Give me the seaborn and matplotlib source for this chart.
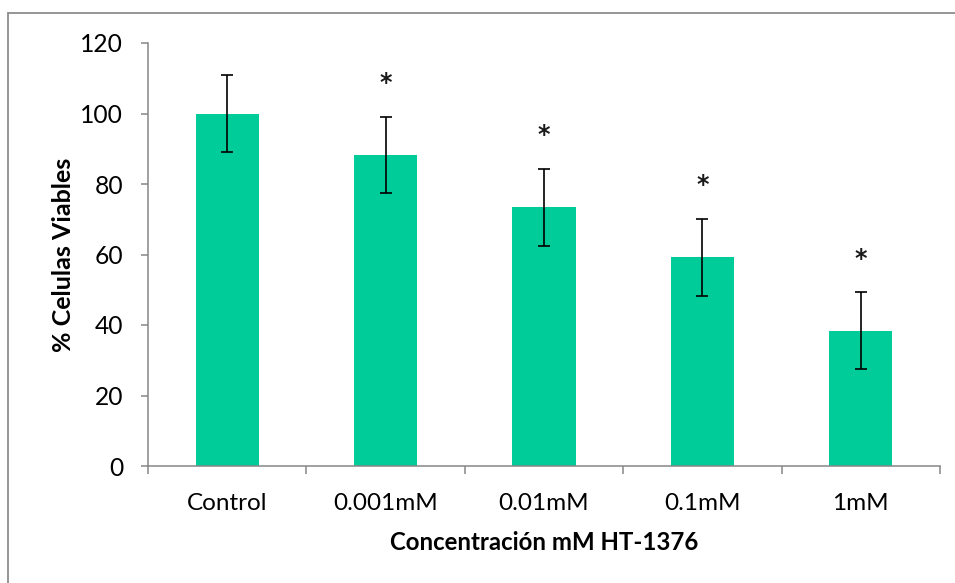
import matplotlib
matplotlib.use("Agg")
import matplotlib.pyplot as plt
import matplotlib.lines as mlines
import seaborn as sns
import pandas as pd

categories = ["Control", "0.001mM", "0.01mM", "0.1mM", "1mM"]
viability = [100.0, 88.3, 73.4, 59.2, 38.4]
errors = [10.9, 10.8, 10.9, 10.9, 10.9]
stars = ["", "*", "*", "*", "*"]
y_ticks = [0, 20, 40, 60, 80, 100, 120]

sns.set_theme(style="white")
plt.rcParams["font.family"] = ["Lato", "DejaVu Sans"]

df = pd.DataFrame({"cat": categories, "val": viability})

W, H = 955, 583
fig = plt.figure(figsize=(W / 100, H / 100), dpi=100)
fig.patch.set_facecolor("white")
ax = fig.add_axes([148 / W, 1 - 466 / H, (940 - 148) / W, (466 - 43) / H])

sns.barplot(data=df, x="cat", y="val", color="#00CC99", width=0.40,
            errorbar=None, ax=ax, saturation=1, linewidth=0)
ax.errorbar(range(len(categories)), viability, yerr=errors, fmt="none",
            ecolor="black", elinewidth=1.2, capsize=4, capthick=1.2, zorder=5)
for i, (v, e, s) in enumerate(zip(viability, errors, stars)):
    if s:
        ax.text(i, v + e + 9.5, s, ha="center", va="center", fontsize=17,
                family=["DejaVu Sans"], fontweight="bold", color="#1a1a1a")

ax.set_xlim(-0.5, len(categories) - 0.5)
ax.set_ylim(0, 120)
ax.set_yticks(y_ticks)
ax.set_yticklabels([str(t) for t in y_ticks])

ax.set_xticks(range(len(categories)))
ax.set_xticklabels(categories)
ax.set_xticks([i - 0.5 for i in range(len(categories) + 1)], minor=True)
ax.tick_params(axis="x", which="major", length=0, pad=19.5, labelsize=17.5,
               colors="black")
ax.tick_params(axis="x", which="minor", length=6, width=1.1, color="#868686",
               direction="out", bottom=True)
ax.tick_params(axis="y", which="major", length=5, width=1.1, color="#868686",
               direction="out", pad=13, labelsize=17.7, left=True,
               labelcolor="black")

for side in ["top", "right"]:
    ax.spines[side].set_visible(False)
for side in ["left", "bottom"]:
    ax.spines[side].set_color("#868686")
    ax.spines[side].set_linewidth(1.1)

ax.set_xlabel("Concentración mM HT-1376", fontsize=17.3, fontweight="bold",
              labelpad=12, color="black")
ax.set_ylabel("% Celulas Viables", fontsize=18, fontweight="bold",
              labelpad=4, color="black")

# outer chart frame (top and left visible)
fig.add_artist(mlines.Line2D([8 / W, 1], [1 - 13 / H, 1 - 13 / H],
                             transform=fig.transFigure, color="#8c8c8c", lw=1.3))
fig.add_artist(mlines.Line2D([8 / W, 8 / W], [0, 1 - 13 / H],
                             transform=fig.transFigure, color="#8c8c8c", lw=1.3))

fig.savefig("out.png", dpi=100, facecolor="white")
